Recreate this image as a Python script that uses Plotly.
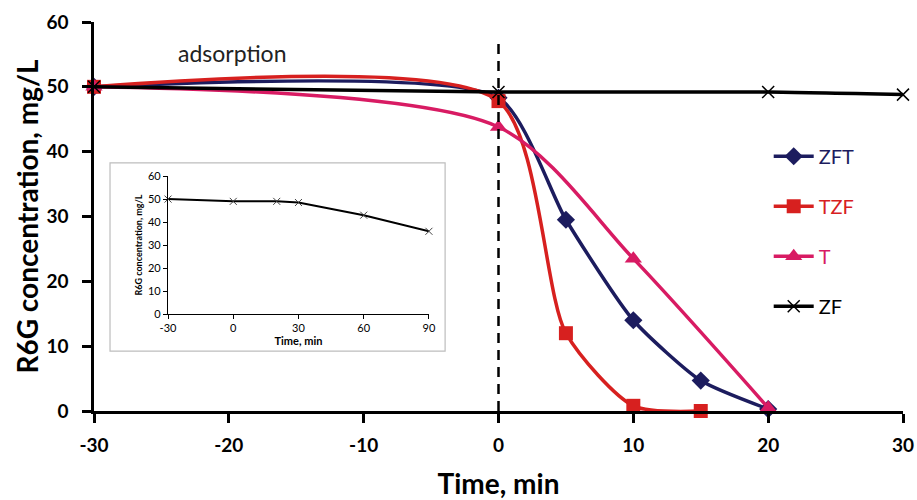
import plotly.graph_objects as go

# ---- data ----
zft_x = [-30, 0, 5, 10, 15, 20]
zft_y = [50, 48.3, 29.5, 14.0, 4.7, 0.3]
tzf_x = [-30, 0, 5, 10, 15]
tzf_y = [50, 47.8, 12.0, 0.8, 0.0]
t_x = [-30, 0, 10, 20]
t_y = [50, 43.8, 23.5, 0.5]
zf_x = [-30, 0, 20, 30]
zf_y = [50, 49.2, 49.2, 48.8]

inset_x = [-30, 0, 20, 30, 60, 90]
inset_y = [50, 49, 49, 48.5, 43, 36]

x_ticks = [-30, -20, -10, 0, 10, 20, 30]
x_ticktext = ["-30", "-20", "-10", "0", "10", "20", "30"]
y_ticks = [0, 10, 20, 30, 40, 50, 60]
inset_x_ticks = [-30, 0, 30, 60, 90]
inset_x_ticktext = ["-30", "0", "30", "60", "90"]
inset_y_ticks = [0, 10, 20, 30, 40, 50, 60]

C_ZFT = "#1c1c5e"
C_TZF = "#d7201f"
C_T = "#d81b63"
C_ZF = "#000000"

FONT = "Lato"

fig = go.Figure()

def series(x, y, name, color, symbol, size, group, smoothing):
    fig.add_trace(go.Scatter(
        x=x, y=y, name=f'<span style="color:{color}">{name}</span>',
        mode="lines+markers",
        line=dict(color=color, width=3.5, shape="spline", smoothing=smoothing),
        marker=dict(symbol=symbol, size=size, color=color,
                    line=dict(width=1.5 if symbol == "x-thin" else 0, color=color)),
        cliponaxis=False, legendgroup=group,
    ))

series(zft_x, zft_y, "ZFT", C_ZFT, "diamond", 14, "a", 0.6)
series(tzf_x, tzf_y, "TZF", C_TZF, "square", 14, "b", 0.7)
series(t_x, t_y, "T", C_T, "triangle-up", 15, "c", 0.8)
series(zf_x, zf_y, "ZF", C_ZF, "x-thin", 12, "d", 0.6)

# inset
fig.add_trace(go.Scatter(
    x=inset_x, y=inset_y, mode="lines+markers", showlegend=False,
    line=dict(color="black", width=2),
    marker=dict(symbol="x-thin", size=7, line=dict(width=1, color="#444")),
    xaxis="x2", yaxis="y2", cliponaxis=False,
))

fig.update_layout(
    width=917, height=500,
    margin=dict(l=94, r=14, t=22, b=89),
    paper_bgcolor="white", plot_bgcolor="white",
    font=dict(family=FONT, color="black"),
    xaxis=dict(range=[-30, 30], tickvals=x_ticks, ticktext=x_ticktext,
               showgrid=False, zeroline=False, automargin=False,
               showline=True, linecolor="black", linewidth=2.5,
               ticks="outside", ticklen=9, tickwidth=2.5, tickcolor="black",
               ticklabelstandoff=6,
               tickfont=dict(size=19, family=FONT, weight="bold"),
               title=dict(text="<b>Time, min</b>", font=dict(size=28), standoff=20)),
    yaxis=dict(range=[0, 60], tickvals=y_ticks, showgrid=False, zeroline=False,
               automargin=False,
               showline=True, linecolor="black", linewidth=2.5,
               ticks="outside", ticklen=9, tickwidth=2.5, tickcolor="black",
               ticklabelstandoff=10,
               tickfont=dict(size=19, family=FONT, weight="bold"),
               title=dict(text="<b>R6G concentration, mg/L</b>", font=dict(size=28), standoff=0)),
    xaxis2=dict(domain=[0.0915, 0.414], anchor="y2", range=[-30, 90],
                tickvals=inset_x_ticks, ticktext=inset_x_ticktext,
                showgrid=False, zeroline=False, automargin=False,
                showline=True, linecolor="black", linewidth=1.2,
                ticks="outside", ticklen=4, tickcolor="black",
                tickfont=dict(size=11, family=FONT),
                title=dict(text="<b>Time, min</b>", font=dict(size=11), standoff=2)),
    yaxis2=dict(domain=[0.249, 0.604], anchor="x2", range=[0, 60],
                tickvals=inset_y_ticks, showgrid=False, zeroline=False, automargin=False,
                showline=True, linecolor="black", linewidth=1.2,
                ticks="outside", ticklen=4, tickcolor="black",
                tickfont=dict(size=11, family=FONT),
                title=dict(text="<b>R6G concentration, mg/L</b>", font=dict(size=9), standoff=3)),
    legend=dict(x=0.834, y=0.705, xanchor="left", yanchor="top",
                traceorder="grouped", tracegroupgap=21,
                font=dict(size=20, family=FONT), bgcolor="rgba(0,0,0,0)",
                itemwidth=40),
    showlegend=True,
    shapes=[
        dict(type="rect", xref="paper", yref="paper", x0=0.0198, x1=0.434, y0=0.154, y1=0.638,
             line=dict(color="#bdbdbd", width=1.2), fillcolor="rgba(0,0,0,0)", layer="below"),
        dict(type="line", xref="x", yref="y", x0=0, x1=0, y0=0, y1=57.2,
             line=dict(color="black", width=2.5, dash="10px,7px")),
    ],
    annotations=[
        dict(x=-19.8, y=55.2, xref="x", yref="y", text="adsorption", showarrow=False,
             font=dict(size=23, family=FONT, color="#222")),
    ],
)

fig.write_html("out.html")
